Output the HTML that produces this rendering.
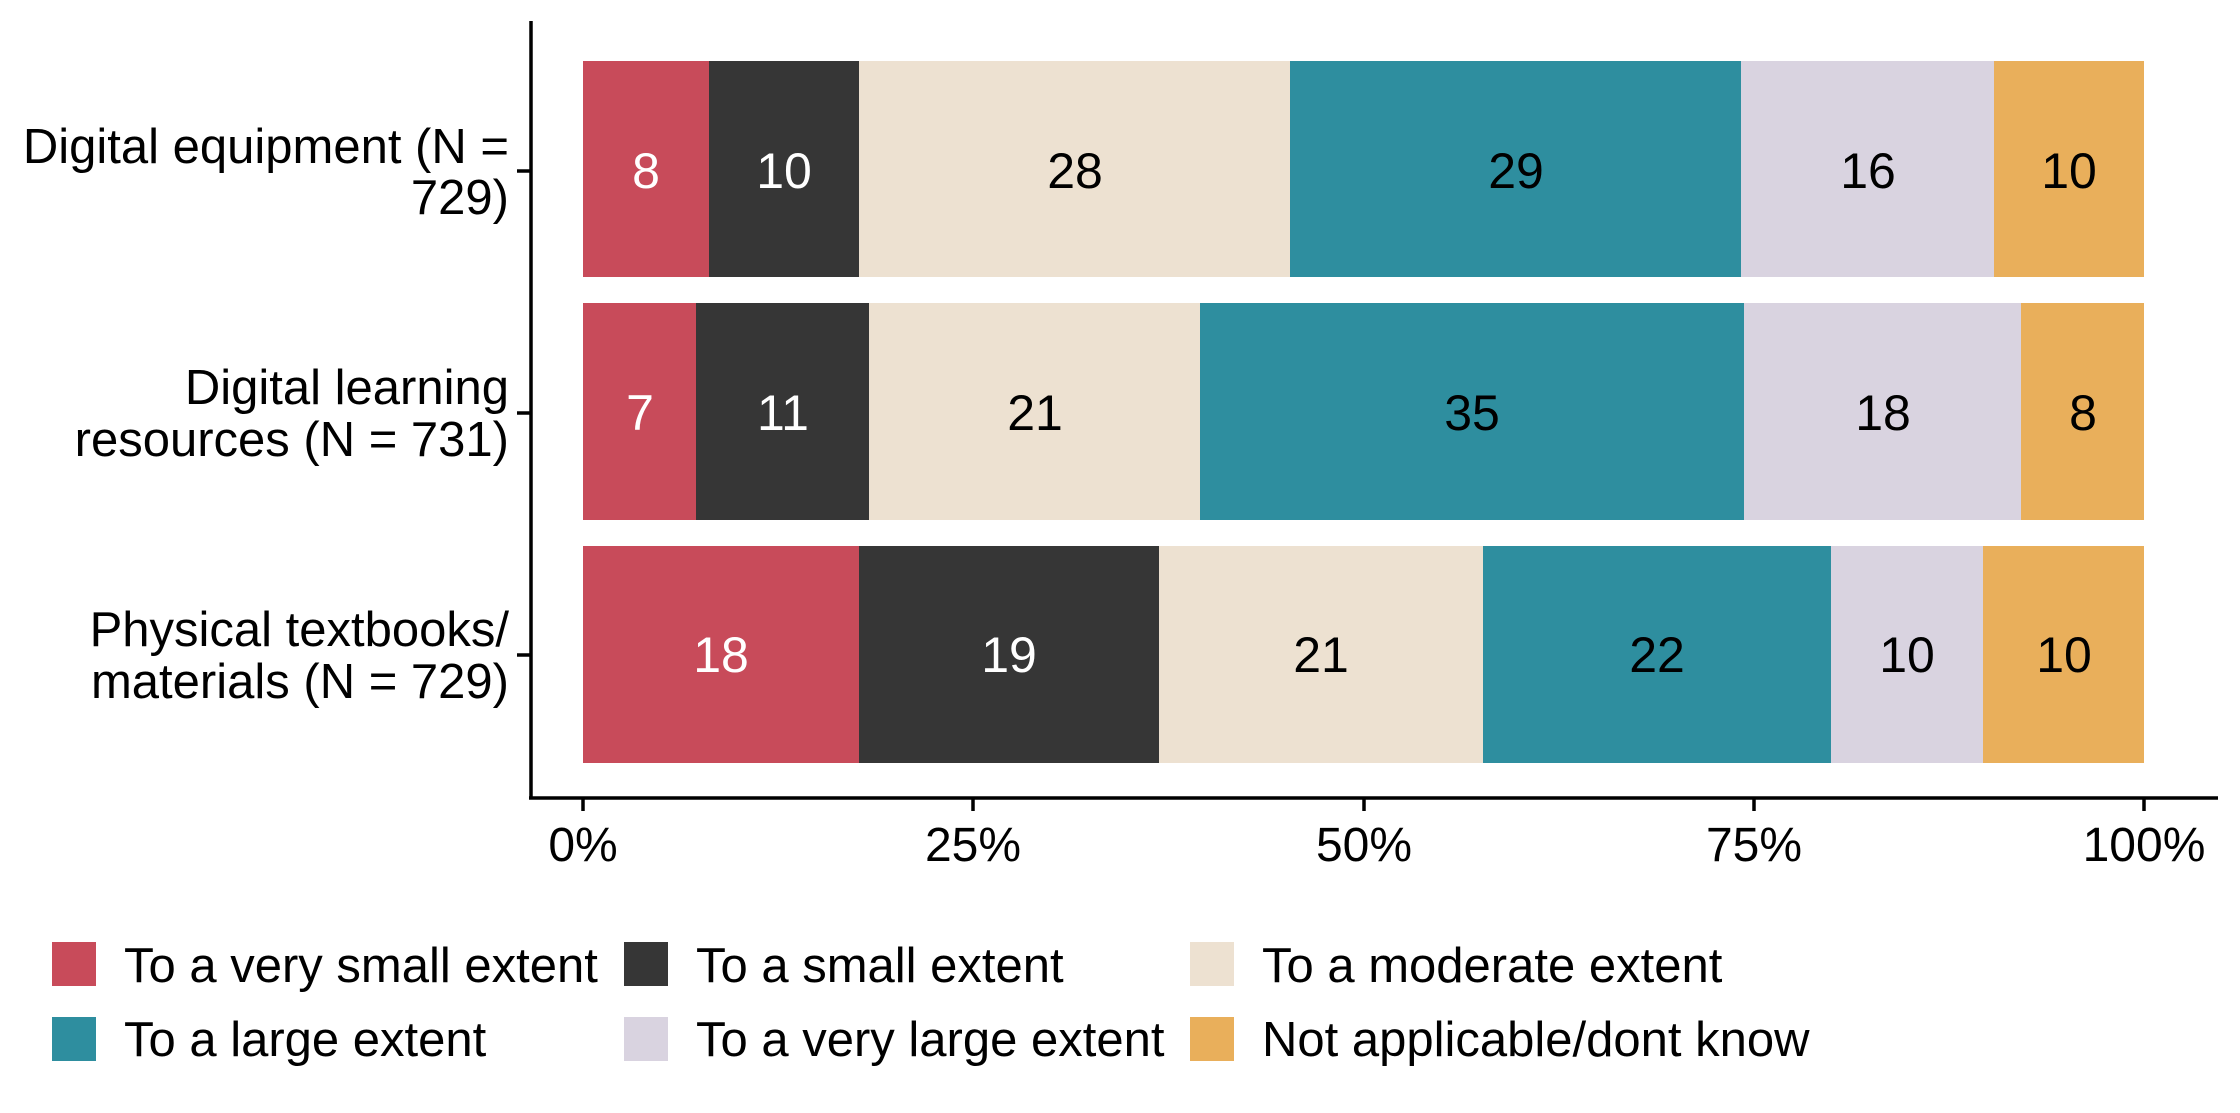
<!DOCTYPE html>
<html><head><meta charset="utf-8"><style>
html,body{margin:0;padding:0;background:#fff;}
svg{display:block;}
text{font-family:"Liberation Sans",Arial,sans-serif;}
</style></head><body>
<svg width="2240" height="1113" viewBox="0 0 2240 1113" xmlns="http://www.w3.org/2000/svg">
<g>
<rect x="583" y="61" width="126" height="216" fill="#C84B5A"/>
<rect x="709" y="61" width="150" height="216" fill="#363636"/>
<rect x="859" y="61" width="431" height="216" fill="#EDE1D1"/>
<rect x="1290" y="61" width="451" height="216" fill="#2E8E9F"/>
<rect x="1741" y="61" width="253" height="216" fill="#D9D3E0"/>
<rect x="1994" y="61" width="150" height="216" fill="#E9AF5B"/>

<rect x="583" y="303" width="113" height="217" fill="#C84B5A"/>
<rect x="696" y="303" width="173" height="217" fill="#363636"/>
<rect x="869" y="303" width="331" height="217" fill="#EDE1D1"/>
<rect x="1200" y="303" width="544" height="217" fill="#2E8E9F"/>
<rect x="1744" y="303" width="277" height="217" fill="#D9D3E0"/>
<rect x="2021" y="303" width="123" height="217" fill="#E9AF5B"/>

<rect x="583" y="546" width="276" height="217" fill="#C84B5A"/>
<rect x="859" y="546" width="300" height="217" fill="#363636"/>
<rect x="1159" y="546" width="324" height="217" fill="#EDE1D1"/>
<rect x="1483" y="546" width="348" height="217" fill="#2E8E9F"/>
<rect x="1831" y="546" width="152" height="217" fill="#D9D3E0"/>
<rect x="1983" y="546" width="161" height="217" fill="#E9AF5B"/>
</g>
<g font-size="50" text-anchor="middle" dominant-baseline="central">
<text x="646" y="171" fill="#fff">8</text>
<text x="784" y="171" fill="#fff">10</text>
<text x="1075" y="171">28</text>
<text x="1516" y="171">29</text>
<text x="1868" y="171">16</text>
<text x="2069" y="171">10</text>

<text x="640" y="413" fill="#fff">7</text>
<text x="783" y="413" fill="#fff">11</text>
<text x="1035" y="413">21</text>
<text x="1472" y="413">35</text>
<text x="1883" y="413">18</text>
<text x="2083" y="413">8</text>

<text x="721" y="655" fill="#fff">18</text>
<text x="1009" y="655" fill="#fff">19</text>
<text x="1321" y="655">21</text>
<text x="1657" y="655">22</text>
<text x="1907" y="655">10</text>
<text x="2064" y="655">10</text>
</g>
<g stroke="#000" stroke-width="3.5" fill="none">
<line x1="531" y1="21" x2="531" y2="798"/>
<line x1="529" y1="798" x2="2218" y2="798"/>
<line x1="517" y1="171" x2="531" y2="171"/>
<line x1="517" y1="413" x2="531" y2="413"/>
<line x1="517" y1="655" x2="531" y2="655"/>
<line x1="583" y1="798" x2="583" y2="811"/>
<line x1="973" y1="798" x2="973" y2="811"/>
<line x1="1364" y1="798" x2="1364" y2="811"/>
<line x1="1754" y1="798" x2="1754" y2="811"/>
<line x1="2144" y1="798" x2="2144" y2="811"/>
</g>
<g font-size="48" text-anchor="middle">
<text x="583" y="861">0%</text>
<text x="973" y="861">25%</text>
<text x="1364" y="861">50%</text>
<text x="1754" y="861">75%</text>
<text x="2144" y="861">100%</text>
</g>
<g font-size="49" text-anchor="end">
<text x="509" y="163">Digital equipment (N =</text>
<text x="509" y="214">729)</text>
<text x="509" y="404">Digital learning</text>
<text x="509" y="456">resources (N = 731)</text>
<text x="509" y="646">Physical textbooks/</text>
<text x="509" y="698">materials (N = 729)</text>
</g>
<g>
<rect x="52" y="942" width="44" height="44" fill="#C84B5A"/>
<rect x="624" y="942" width="44" height="44" fill="#363636"/>
<rect x="1190" y="942" width="44" height="44" fill="#EDE1D1"/>
<rect x="52" y="1017" width="44" height="44" fill="#2E8E9F"/>
<rect x="624" y="1017" width="44" height="44" fill="#D9D3E0"/>
<rect x="1190" y="1017" width="44" height="44" fill="#E9AF5B"/>
</g>
<g font-size="49">
<text x="124" y="982">To a very small extent</text>
<text x="696" y="982">To a small extent</text>
<text x="1262" y="982">To a moderate extent</text>
<text x="124" y="1056">To a large extent</text>
<text x="696" y="1056">To a very large extent</text>
<text x="1262" y="1056">Not applicable/dont know</text>
</g>
</svg>
</body></html>
